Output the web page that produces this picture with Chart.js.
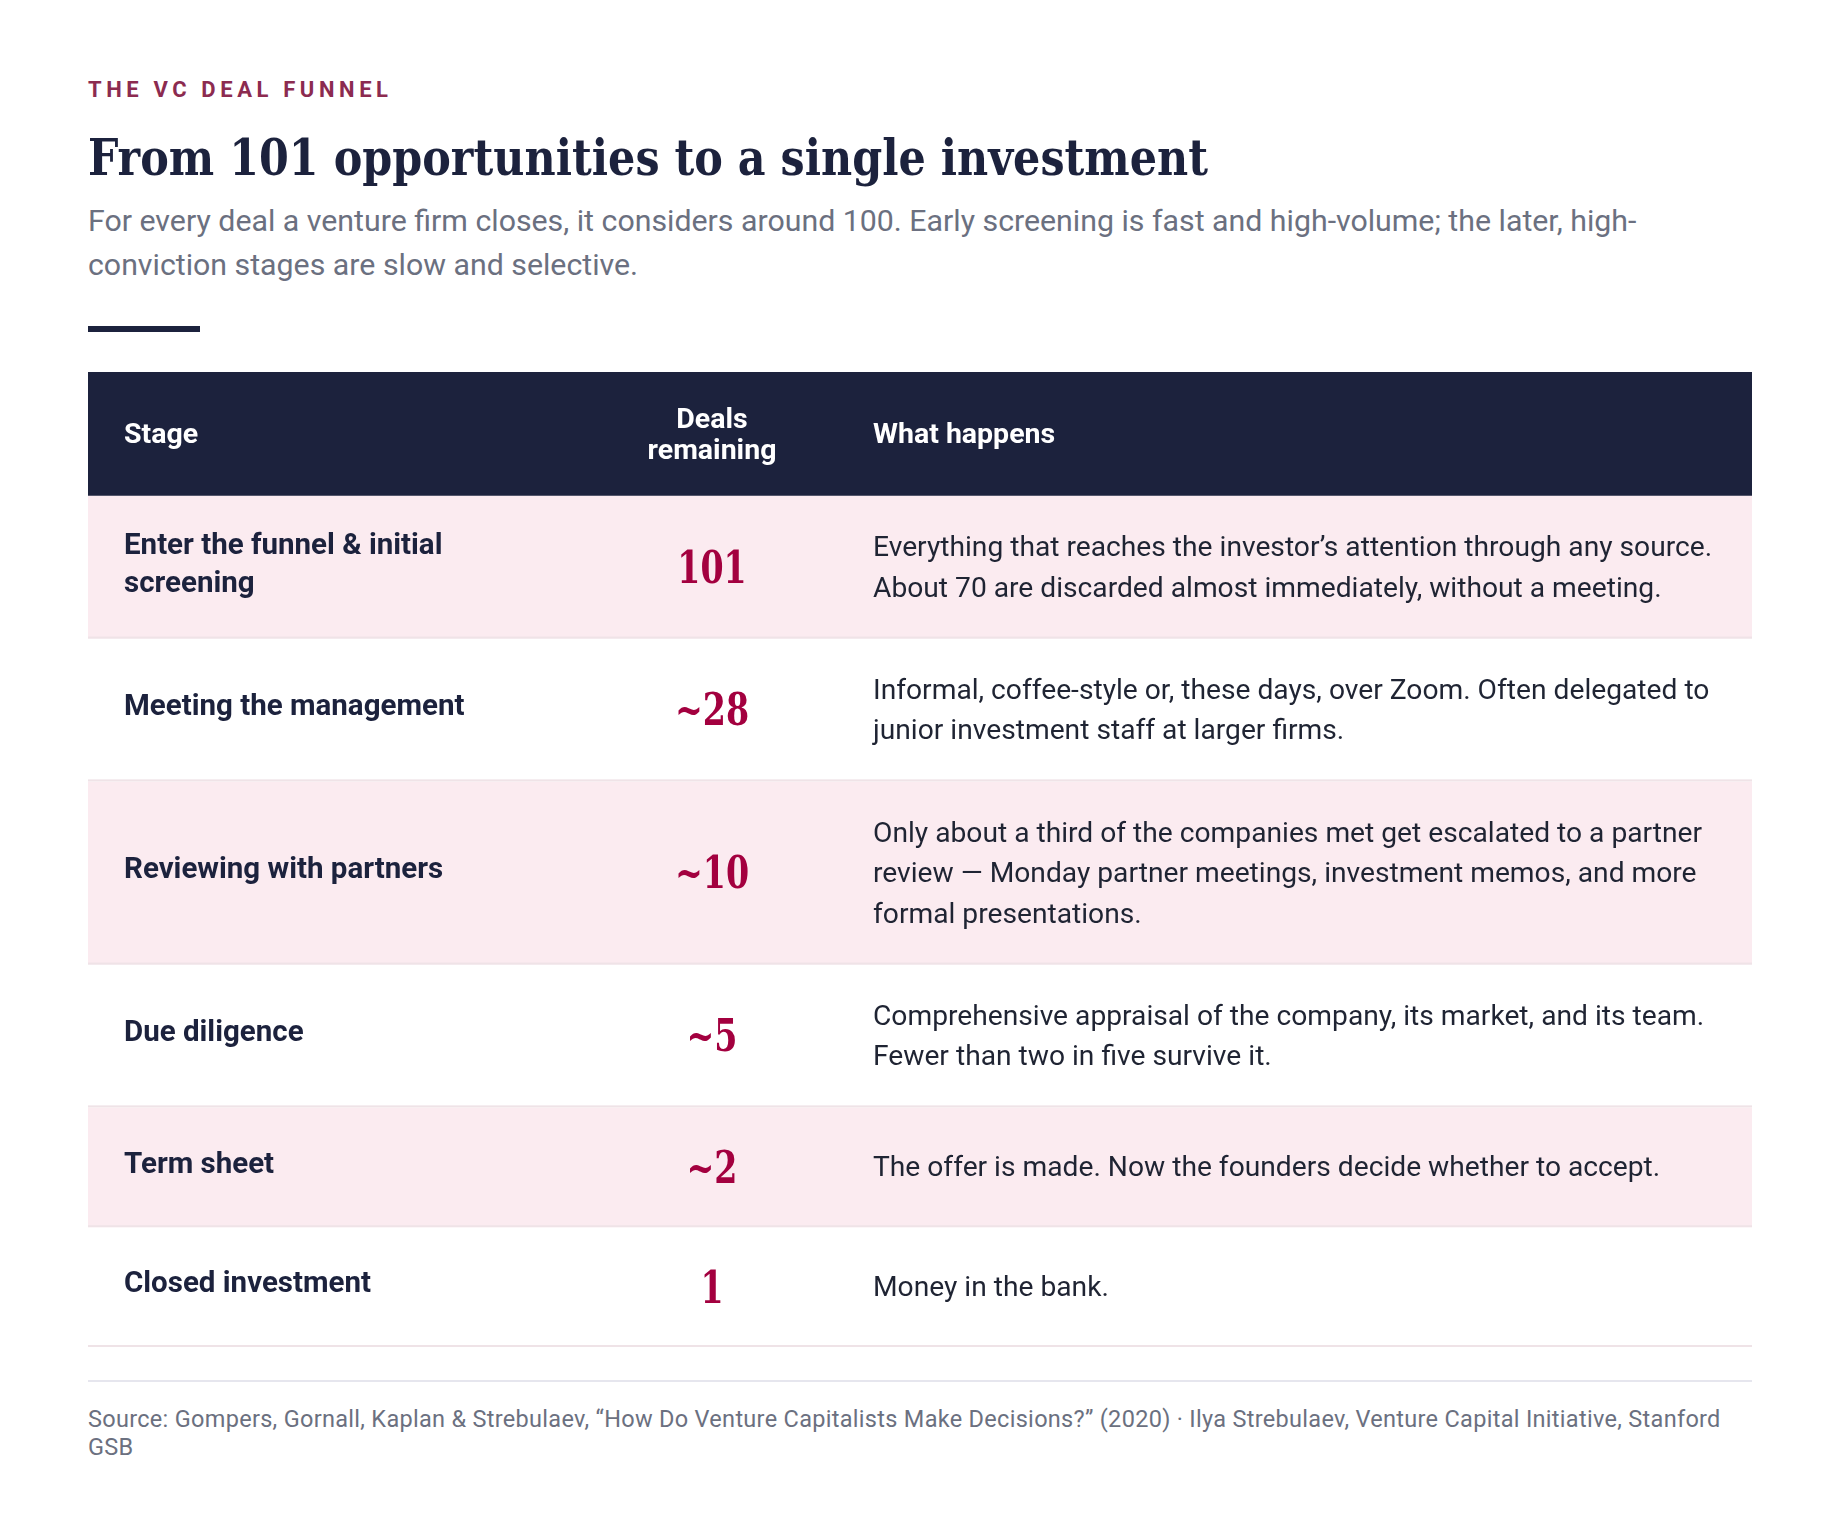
<!DOCTYPE html>
<html>
<head>
<meta charset="utf-8">
<script src="https://cdn.jsdelivr.net/npm/chart.js@4.4.1/dist/chart.umd.min.js"></script>
<style>
  html, body { margin: 0; padding: 0; background: #ffffff; }
  body { width: 1840px; height: 1524px; position: relative; font-family: Roboto, 'Noto Sans', sans-serif; }
  .kicker { position: absolute; left: 88px; top: 79px; font-size: 22px; line-height: 22px; font-weight: 700; letter-spacing: 4.6px; color: #8c2b50; }
  .title { position: absolute; left: 88px; top: 131px; font-family: 'DejaVu Serif Condensed', 'DejaVu Serif', serif; font-stretch: condensed; font-weight: 700; font-size: 51px; line-height: 52px; color: #1c223d; white-space: nowrap; transform: scaleX(0.935); transform-origin: left top; }
  .subtitle { position: absolute; left: 88px; top: 199px; width: 1664px; font-size: 30.3px; line-height: 44px; color: #6b7080; }
  .rule { position: absolute; left: 88px; top: 326px; width: 112px; height: 6px; background: #1c223d; }
  .table-wrap { position: absolute; left: 88px; top: 372px; width: 1664px; height: 975px; }
  .footline { position: absolute; left: 88px; top: 1380px; width: 1664px; height: 2px; background: #e6e6ee; }
  .source { position: absolute; left: 88px; top: 1405px; width: 1664px; font-size: 23.5px; line-height: 28px; letter-spacing: 0.3px; color: #6b7080; }
</style>
</head>
<body>
<div class="kicker">THE VC DEAL FUNNEL</div>
<div class="title">From 101 opportunities to a single investment</div>
<div class="subtitle">For every deal a venture firm closes, it considers around 100. Early screening is fast and high-volume; the later, high-conviction stages are slow and selective.</div>
<div class="rule"></div>
<div class="table-wrap"><canvas id="funnelTable"></canvas></div>
<div class="footline"></div>
<div class="source">Source: Gompers, Gornall, Kaplan &amp; Strebulaev, “How Do Venture Capitalists Make Decisions?” (2020) · Ilya Strebulaev, Venture Capital Initiative, Stanford GSB</div>

<script>
// table content, one entry per funnel stage
const headers = [['Stage'], ['Deals', 'remaining'], ['What happens']];
const stages = [
    ['Enter the funnel & initial', 'screening'],
    ['Meeting the management'],
    ['Reviewing with partners'],
    ['Due diligence'],
    ['Term sheet'],
    ['Closed investment']
];
const dealsRemaining = [101, 28, 10, 5, 2, 1];
const approximate = [false, true, true, true, true, false];
const descriptions = [
    ['Everything that reaches the investor’s attention through any source.', 'About 70 are discarded almost immediately, without a meeting.'],
    ['Informal, coffee-style or, these days, over Zoom. Often delegated to', 'junior investment staff at larger firms.'],
    ['Only about a third of the companies met get escalated to a partner', 'review — Monday partner meetings, investment memos, and more', 'formal presentations.'],
    ['Comprehensive appraisal of the company, its market, and its team.', 'Fewer than two in five survive it.'],
    ['The offer is made. Now the founders decide whether to accept.'],
    ['Money in the bank.']
];

const NAVY = '#1c223d';
const PINK = '#fbebf0';
const CRIMSON = '#a3003f';
const SEP = '#efe3e7';

const HEAD_LH = 31, STAGE_LH = 38, DESC_LH = 40.5, MIN_CELL = 58, PAD = 31;
const COL_STAGE = 36, COL_DEALS = 624, COL_DESC = 785;

const dealLabel = (i) => (approximate[i] ? '~' : '') + dealsRemaining[i];

// row extents follow from how many text lines each row holds
const rowHeights = [Math.max(headers[1].length * HEAD_LH, MIN_CELL) + 2 * PAD]
    .concat(stages.map((s, i) => Math.max(s.length * STAGE_LH, descriptions[i].length * DESC_LH, MIN_CELL) + 2 * PAD));
const rowEdges = [0];
rowHeights.forEach(h => rowEdges.push(rowEdges[rowEdges.length - 1] + h));
const total = rowEdges[rowEdges.length - 1];

const rowColor = (i) => i === 0 ? NAVY : (i % 2 === 1 ? PINK : '#ffffff');

const drawLines = (ctx, lines, x, mid, lh) => {
    const start = mid - (lines.length - 1) * lh / 2;
    lines.forEach((line, k) => ctx.fillText(line, x, start + k * lh));
};

const cellText = {
    id: 'cellText',
    afterDatasetsDraw(chart) {
        const { ctx, chartArea, scales: { y } } = chart;
        const left = chartArea.left, right = chartArea.right;
        ctx.save();
        ctx.textBaseline = 'middle';

        for (let r = 0; r < rowHeights.length; r++) {
            const top = y.getPixelForValue(rowEdges[r]);
            const bottom = y.getPixelForValue(rowEdges[r + 1]);
            const mid = (top + bottom) / 2;

            if (r === 0) {
                ctx.fillStyle = '#ffffff';
                ctx.font = '700 28.5px Roboto';
                ctx.textAlign = 'left';
                drawLines(ctx, headers[0], left + COL_STAGE, mid + 2, HEAD_LH);
                ctx.textAlign = 'center';
                drawLines(ctx, headers[1], left + COL_DEALS, mid + 2, HEAD_LH);
                ctx.textAlign = 'left';
                drawLines(ctx, headers[2], left + COL_DESC, mid + 2, HEAD_LH);
                continue;
            }

            const i = r - 1;
            ctx.fillStyle = SEP;
            ctx.fillRect(left, bottom - 2, right - left, 2);

            ctx.textAlign = 'left';
            ctx.fillStyle = NAVY;
            ctx.font = '700 29.5px Roboto';
            drawLines(ctx, stages[i], left + COL_STAGE, mid - 2, STAGE_LH);

            // numbers: slab-ish serif, squeezed a little to match the narrow original face
            ctx.save();
            ctx.translate(left + COL_DEALS, mid + 4);
            ctx.scale(0.84, 1);
            ctx.textAlign = 'center';
            ctx.fillStyle = CRIMSON;
            ctx.font = '700 44px "DejaVu Serif Condensed", "DejaVu Serif"';
            ctx.fillText(dealLabel(i), 0, 0);
            ctx.restore();

            ctx.textAlign = 'left';
            ctx.fillStyle = '#1f2433';
            ctx.font = '400 28.2px Roboto';
            drawLines(ctx, descriptions[i], left + COL_DESC, mid + 2, DESC_LH);
        }
        ctx.restore();
    }
};

const createFunnelTable = () => {
    const canvas = document.getElementById('funnelTable');
    return new Chart(canvas, {
        type: 'bar',
        data: {
            labels: ['funnel'],
            datasets: rowHeights.map((h, r) => ({
                label: r === 0 ? 'header' : stages[r - 1].join(' '),
                data: [[rowEdges[r], rowEdges[r + 1]]],
                backgroundColor: rowColor(r),
                borderWidth: 0,
                inflateAmount: 0,
                grouped: false,
                barPercentage: 1,
                categoryPercentage: 1
            }))
        },
        options: {
            responsive: true,
            maintainAspectRatio: false,
            animation: false,
            layout: { padding: 0 },
            plugins: {
                legend: { display: false },
                tooltip: { enabled: false }
            },
            scales: {
                x: { display: false },
                y: { display: false, reverse: true, min: 0, max: total }
            }
        },
        plugins: [cellText]
    });
};

document.fonts.ready.then(createFunnelTable);
</script>
</body>
</html>
